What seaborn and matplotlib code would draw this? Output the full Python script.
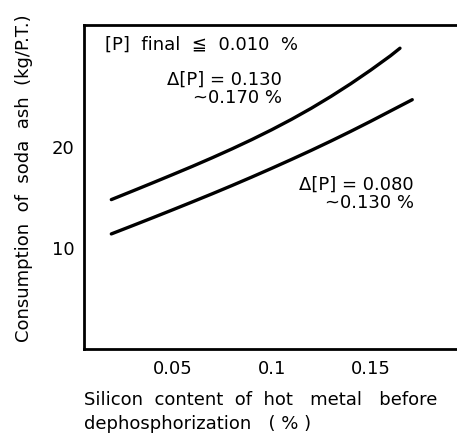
import matplotlib
matplotlib.use("Agg")
import matplotlib.pyplot as plt
import seaborn as sns
import pandas as pd

# Soda ash consumption vs. silicon content of hot metal
si_high = [0.019, 0.03, 0.04, 0.05, 0.06, 0.07, 0.08, 0.09, 0.10, 0.11,
           0.12, 0.13, 0.14, 0.15, 0.16, 0.1648]
ash_high = [14.8, 15.67, 16.47, 17.28, 18.10, 18.95, 19.83, 20.75, 21.72, 22.75,
            23.85, 25.03, 26.29, 27.63, 29.05, 29.8]

si_low = [0.019, 0.03, 0.04, 0.05, 0.06, 0.07, 0.08, 0.09, 0.10, 0.11,
          0.12, 0.13, 0.14, 0.15, 0.16, 0.171]
ash_low = [11.4, 12.24, 13.01, 13.79, 14.58, 15.38, 16.20, 17.04, 17.90, 18.78,
           19.68, 20.61, 21.57, 22.56, 23.58, 24.70]

x_ticks = [0.05, 0.1, 0.15]
x_tick_labels = ["0.05", "0.1", "0.15"]
y_ticks = [10, 20]
y_tick_labels = ["10", "20"]

df = pd.concat([
    pd.DataFrame({"si": si_high, "ash": ash_high, "dp": "0.130-0.170"}),
    pd.DataFrame({"si": si_low, "ash": ash_low, "dp": "0.080-0.130"}),
])

sns.set_style("white")
plt.rcParams["font.family"] = ["DejaVu Sans"]
plt.rcParams["text.color"] = "black"
plt.rcParams["lines.solid_capstyle"] = "round"
plt.rcParams["lines.solid_joinstyle"] = "round"

fig = plt.figure(figsize=(4.57, 4.34), dpi=100)
ax = fig.add_axes([0.1838, 0.1959, 0.8162, 0.7465])

sns.lineplot(data=df, x="si", y="ash", hue="dp", palette=["black", "black"],
             linewidth=2.4, sort=False, legend=False, ax=ax)

ax.set_xlim(0.0052, 0.1936)
ax.set_ylim(0, 32.1)
ax.set_xticks(x_ticks)
ax.set_xticklabels(x_tick_labels, fontsize=13)
ax.set_yticks(y_ticks)
ax.set_yticklabels(y_tick_labels, fontsize=13)
ax.tick_params(axis="x", direction="in", length=7, width=1.2, pad=8, colors="black")
ax.tick_params(axis="y", direction="inout", length=8, width=1.2, pad=3, colors="black")

for side in ["left", "top", "bottom"]:
    ax.spines[side].set_visible(True)
    ax.spines[side].set_color("black")
    ax.spines[side].set_linewidth(2.0)
ax.spines["right"].set_visible(False)

ax.set_xlabel("")
ax.set_ylabel("Consumption  of  soda  ash  (kg/P.T.)", fontsize=13, color="black")
ax.yaxis.set_label_coords(-0.137, 0.528)

fig.text(84 / 457, 1 - 400 / 434, "Silicon  content  of  hot   metal   before",
         fontsize=13, ha="left", va="center", color="black")
fig.text(84 / 457, 1 - 424 / 434, "dephosphorization   ( % )",
         fontsize=13, ha="left", va="center", color="black")

tr = ax.transAxes
ax.text((105 - 84) / 373, (349 - 45) / 324, "[P]  final  \u2266  0.010  %",
        transform=tr, fontsize=13, ha="left", va="center", color="black")
ax.text((282 - 84) / 373, (349 - 89) / 324, "\u0394[P] = 0.130\n~0.170 %",
        transform=tr, fontsize=13, ha="right", va="center", linespacing=1.0,
        color="black")
ax.text((414 - 84) / 373, (349 - 194) / 324, "\u0394[P] = 0.080\n~0.130 %",
        transform=tr, fontsize=13, ha="right", va="center", linespacing=1.0,
        color="black")

fig.savefig("out.png", dpi=100, facecolor="white")
